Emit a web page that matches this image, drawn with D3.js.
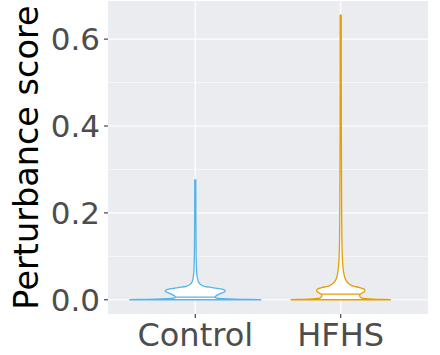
<!DOCTYPE html>
<html><head><meta charset="utf-8">
<script src="https://cdn.jsdelivr.net/npm/d3@7"></script>
<style>html,body{margin:0;padding:0;background:#fff;}svg{display:block;}</style>
</head><body>
<svg id="chart" width="440" height="355"></svg>
<script>
const categories = ["Control", "HFHS"];
const colors = ["#56B4E9", "#E69F00"];
const yTicks = [0.0, 0.2, 0.4, 0.6];
const yMinor = [0.1, 0.3, 0.5];
// violin profiles: [score, relative density]
const controlDensity = [
  [0,1],[0.0007,0.83],[0.0015,0.61],[0.0025,0.42],[0.0035,0.335],[0.005,0.303],
  [0.008,0.31],[0.012,0.35],[0.016,0.41],[0.019,0.455],[0.022,0.455],[0.025,0.39],
  [0.028,0.26],[0.031,0.136],[0.035,0.083],[0.040,0.053],[0.05,0.033],[0.06,0.024],
  [0.08,0.017],[0.12,0.012],[0.2,0.009],[0.276,0.008]
];
const hfhsDensity = [
  [0,0.76],[0.0007,0.65],[0.0015,0.5],[0.0025,0.39],[0.004,0.32],[0.007,0.295],
  [0.010,0.288],[0.013,0.303],[0.016,0.333],[0.019,0.364],[0.022,0.368],[0.025,0.35],
  [0.028,0.29],[0.031,0.2],[0.034,0.152],[0.038,0.114],[0.044,0.083],[0.05,0.065],
  [0.06,0.048],[0.08,0.032],[0.12,0.02],[0.2,0.014],[0.4,0.009],[0.655,0.008]
];
const quantiles = [[0.006], [0.013]];
const densities = [controlDensity, hfhsDensity];

const svg = d3.select("#chart");
const panel = {left:108, right:428, top:1, bottom:314};
const yMax = 0.655, yMinData = 0, ex = (yMax - yMinData) * 0.05;
const y = d3.scaleLinear().domain([yMinData - ex, yMax + ex]).range([panel.bottom, panel.top]);
const xc = d3.scaleLinear().domain([0.4, 2.6]).range([panel.left, panel.right]);
const x = c => xc(categories.indexOf(c) + 1);
const unit = xc(1) - xc(0);
const w = d3.scaleLinear().domain([0, 1]).range([0, 0.45 * unit]);

svg.append("rect").attr("x", panel.left).attr("y", panel.top)
  .attr("width", panel.right - panel.left).attr("height", panel.bottom - panel.top)
  .attr("fill", "#EBECF0");
svg.selectAll(".minor").data(yMinor).join("line")
  .attr("x1", panel.left).attr("x2", panel.right)
  .attr("y1", d => y(d)).attr("y2", d => y(d))
  .attr("stroke", "#fff").attr("stroke-width", 0.6);
svg.selectAll(".major").data(yTicks).join("line")
  .attr("x1", panel.left).attr("x2", panel.right)
  .attr("y1", d => y(d)).attr("y2", d => y(d))
  .attr("stroke", "#fff").attr("stroke-width", 1.2);
svg.selectAll(".vmajor").data(categories).join("line")
  .attr("x1", d => x(d)).attr("x2", d => x(d))
  .attr("y1", panel.top).attr("y2", panel.bottom)
  .attr("stroke", "#fff").attr("stroke-width", 1.2);

categories.forEach((c, i) => {
  const cx = x(c);
  const area = d3.area().curve(d3.curveMonotoneY)
    .y(d => y(d[0])).x0(d => cx - w(d[1])).x1(d => cx + w(d[1]));
  svg.append("path").attr("d", area(densities[i]))
    .attr("fill", "#fff").attr("stroke", colors[i]).attr("stroke-width", 1.3)
    .attr("stroke-linejoin", "round");
  quantiles[i].forEach(q => {
    const dens = densities[i];
    let k = dens.findIndex(d => d[0] >= q);
    const a = dens[k-1], b = dens[k];
    const dv = a[1] + (b[1]-a[1]) * (q - a[0]) / (b[0]-a[0]);
    svg.append("line").attr("x1", cx - w(dv)).attr("x2", cx + w(dv))
      .attr("y1", y(q)).attr("y2", y(q))
      .attr("stroke", colors[i]).attr("stroke-width", 1.3);
  });
});

const yAxis = svg.append("g");
yAxis.selectAll("line").data(yTicks).join("line")
  .attr("x1", panel.left - 4).attr("x2", panel.left)
  .attr("y1", d => y(d)).attr("y2", d => y(d))
  .attr("stroke", "#333333").attr("stroke-width", 1.1);
yAxis.selectAll("text").data(yTicks).join("text")
  .attr("x", panel.left - 8).attr("y", d => y(d)).attr("dy", "0.36em")
  .attr("text-anchor", "end").attr("fill", "#4D4D4D")
  .style("font-family", "DejaVu Sans").style("font-size", "31px")
  .text(d => d.toFixed(1));
const xAxis = svg.append("g");
xAxis.selectAll("line").data(categories).join("line")
  .attr("x1", d => x(d)).attr("x2", d => x(d))
  .attr("y1", panel.bottom).attr("y2", panel.bottom + 4)
  .attr("stroke", "#333333").attr("stroke-width", 1.1);
xAxis.selectAll("text").data(categories).join("text")
  .attr("x", d => x(d)).attr("y", 346)
  .attr("text-anchor", "middle").attr("fill", "#4D4D4D")
  .style("font-family", "DejaVu Sans").style("font-size", "32px")
  .text(d => d);
svg.append("text").attr("transform", `translate(38,${(panel.top + panel.bottom)/2}) rotate(-90)`)
  .attr("text-anchor", "middle").attr("fill", "#000")
  .style("font-family", "DejaVu Sans").style("font-size", "33.5px")
  .text("Perturbance score");
</script>
</body></html>
